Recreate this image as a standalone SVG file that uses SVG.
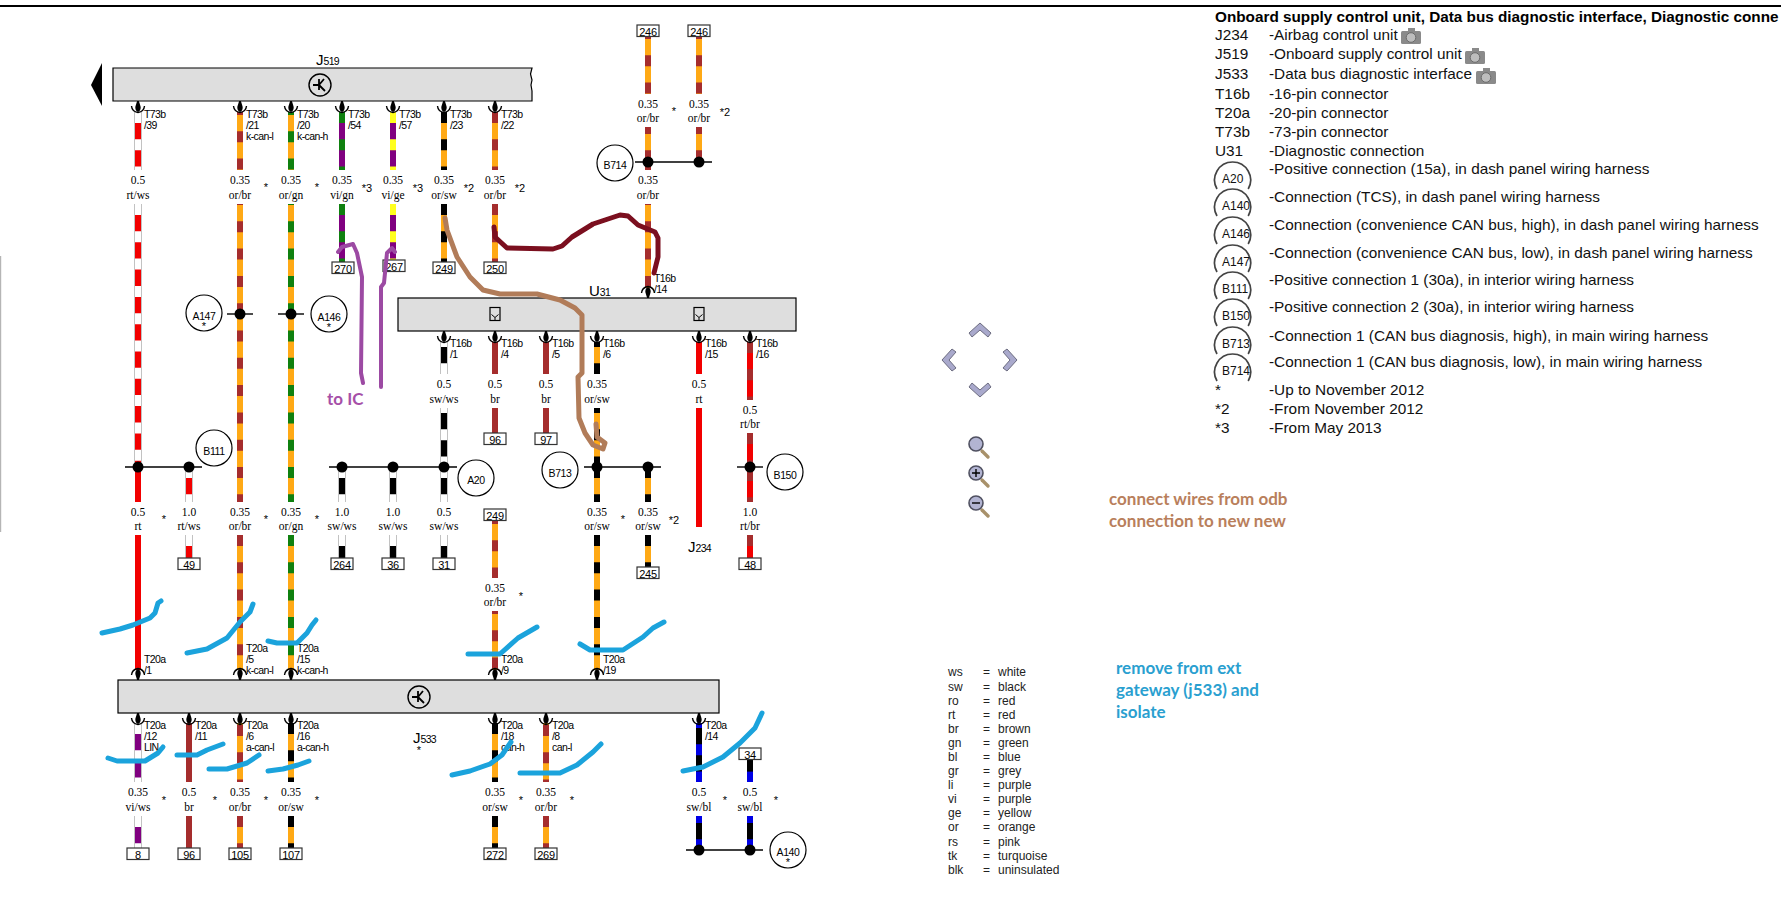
<svg xmlns="http://www.w3.org/2000/svg" width="1781" height="902" viewBox="0 0 1781 902">
<style>
text{font-family:"Liberation Sans",Arial,sans-serif;fill:#000}
.bar{fill:#dedede;stroke:#000;stroke-width:1.2}
.w{fill:none;stroke-width:6}
.d{stroke-dasharray:11 16.3}
.o4{stroke-dashoffset:4}.o6{stroke-dashoffset:6}.o8{stroke-dashoffset:8}.o10{stroke-dashoffset:10}.o16{stroke-dashoffset:15.7}
.edge{fill:none;stroke:#9a9a9a;stroke-width:7.2}
.or{stroke:#ffa915}.br{stroke:#a52d2d}.gn{stroke:#0f800f}.vi{stroke:#800080}.ge{stroke:#ffff1e}.rt{stroke:#f20000}.ws{stroke:#fff}.sw{stroke:#000}.bl{stroke:#0000e6}
.j{fill:none;stroke:#000;stroke-width:1.4}
.dot{fill:#000}
.cf{fill:none;stroke:#000;stroke-width:1.2}
.ct{font-size:10.5px;text-anchor:middle;letter-spacing:-.4px}
.bx{fill:#fff;stroke:#333;stroke-width:1.2}
.bt{font-size:11px;text-anchor:middle;letter-spacing:-.3px}
.s{font-family:"Liberation Serif","Times New Roman",serif;font-size:11.5px;text-anchor:middle}
.p{font-size:10.5px;letter-spacing:-.6px}
.st{font-size:11px;text-anchor:middle}
.big{font-size:15px}
.sub{font-size:10.5px;letter-spacing:-.7px}
.ink{fill:none;stroke-linecap:round;stroke-linejoin:round}
.lg{font-size:15.35px;fill:#111}
.cl{font-size:12px;fill:#222}
.lc{fill:none;stroke:#444;stroke-width:1.7}
.lt{font-size:12px;fill:#111}
.note{font-family:Lato,"Open Sans",sans-serif;font-weight:700;font-size:17px}
.chev{fill:#a9a9cc;stroke:#6c6c80;stroke-width:1}
.lens{fill:#b2b4d2;stroke:#4f5060;stroke-width:1.6}
.hd{stroke:#a8916a;stroke-width:3.4;stroke-linecap:round}
</style>
<defs>
<g id="pd"><path d="M-.9 0H.9L2.7 6Q2.8 10 0 11Q-2.8 10-2.7 6Z" fill="#000"/><path d="M-6.5 5Q-6 10.5 0 11.5Q6 10.5 6.5 5" fill="none" stroke="#000" stroke-width="1.4"/></g>
<g id="pu" transform="scale(1 -1)"><use href="#pd"/></g>
<g id="ic"><circle r="11" fill="none" stroke="#000" stroke-width="1.4"/><path d="M-7 0H0M-1-6V5M-1 0L4-6M-1 0L5 6" fill="none" stroke="#000" stroke-width="1.8"/></g>
<g id="dg"><rect x="-5" y="-6.5" width="10" height="13" fill="none" stroke="#000" stroke-width="1.2"/><path d="M-3.5 .5L0 3.5L3.5 .5M0 3.5V6.5" fill="none" stroke="#000" stroke-width="1"/></g>
<g id="cam"><rect x="0" y="3" width="20" height="13" rx="1.5" fill="#8a8a8a"/><rect x="7" y="0" width="7" height="4" fill="#8a8a8a"/><circle cx="10" cy="9.5" r="4.8" fill="#bdbdbd" stroke="#6b6b6b"/></g>
<path id="ch" class="chev" d="M-11 2L0-8L11 2L8 6L0-1L-8 6Z"/>
</defs>

<rect id="page-top" x="0" y="5" width="1781" height="2" fill="#000"/>
<rect id="page-left" x="0" y="256" width="1.2" height="276" fill="#b5b5b5"/>

<g id="connectors">
<path class="edge" d="M138 112V170M138 204V467M189 467V502M189 535V558M342 467V502M342 535V558M393 467V502M393 535V558M444 342V374M444 408V502M444 535V558M138 723V782M138 816V848"/>
<path class="w or" d="M240 112V170M240 204V502M240 535V670M291 112V170M291 204V502M291 535V670M444 112V170M444 204V262M495 112V170M495 204V262M648 36V94M699 36V94M648 127V170M699 127V162M648 204V288M597 342V374M597 408V502M597 535V670M648 467V502M648 535V567M495 521V578M495 611V670M240 723V782M291 723V782M495 723V782M546 723V782M240 816V848M291 816V848M495 816V848M546 816V848"/>
<path class="w br d" d="M495 112V170M495 204V262M240 535V670M240 725V782M546 725V782M240 816V848M546 816V848"/>
<path class="w br d o8" d="M240 112V170M495 521V578M648 36V94M699 36V94M495 611V670"/>
<path class="w br d o4" d="M648 127V162M699 127V162"/>
<path class="w br" d="M648 164V170"/>
<path class="w br d o10" d="M240 204V502M648 204V288"/>
<path class="w gn d o8" d="M291 112V170"/>
<path class="w gn d o10" d="M291 204V502"/>
<path class="w gn d" d="M291 535V670"/>
<path class="w sw d" d="M444 112V170M444 204V262M597 467V502M648 467V502M597 535V670M648 535V567M291 723V782M495 723V782M291 816V848M495 816V848"/>
<path class="w sw d o6" d="M597 342V374M597 408V467"/>
<path class="w sw" d="M444 342V374M444 408V502M342 467V502M393 467V502M342 535V558M393 535V558M444 535V558"/>
<path class="w ws d o6" d="M444 342V374M444 408V467"/>
<path class="w ws d" d="M444 467V502M342 467V502M393 467V502M342 535V558M393 535V558M444 535V558"/>
<path class="w rt" d="M138 112V170M138 204V502M138 535V670M189 467V502M189 535V558M699 342V374M699 408V527M750 342V400M750 433V502M750 535V558"/>
<path class="w ws d" d="M138 112V170M138 204V467M189 467V502M189 535V558"/>
<path class="w br d" d="M750 342V400M750 433V467M750 470V502M750 535V558"/>
<path class="w vi" d="M342 112V170M342 204V262M393 112V170M393 204V260M138 723V782M138 816V848"/>
<path class="w gn d" d="M342 112V170M342 204V262"/>
<path class="w ge d" d="M393 112V170M393 204V260"/>
<path class="w ws d" d="M138 723V782M138 816V848"/>
<path class="w br" d="M495 342V374M495 408V433M546 342V374M546 408V433M189 723V782M189 816V848"/>
<path class="w sw" d="M699 723V782M699 816V850M750 760V782M750 816V850"/>
<path class="w bl d o6" d="M699 723V782"/>
<path class="w bl d o16" d="M750 760V782"/>
<path class="w bl d o4" d="M699 816V850M750 816V850"/>
</g>

<g id="J519">
<polygon points="102,63 91,85 102,106" fill="#000"/>
<path class="bar" d="M113 68H532L530.5 74L532 80L531 85L532 91V101H113Z"/>
<use href="#ic" x="320" y="85"/>
<text x="316" y="65"><tspan class="big">J</tspan><tspan class="sub">519</tspan></text>
<use href="#pd" x="138" y="101"/><use href="#pd" x="240" y="101"/><use href="#pd" x="291" y="101"/><use href="#pd" x="342" y="101"/><use href="#pd" x="393" y="101"/><use href="#pd" x="444" y="101"/><use href="#pd" x="495" y="101"/>
<text class="p" x="144" y="118">T73b<tspan x="144" dy="11">/39</tspan></text>
<text class="p" x="246" y="118">T73b<tspan x="246" dy="11">/21</tspan><tspan x="246" dy="11">k-can-l</tspan></text>
<text class="p" x="297" y="118">T73b<tspan x="297" dy="11">/20</tspan><tspan x="297" dy="11">k-can-h</tspan></text>
<text class="p" x="348" y="118">T73b<tspan x="348" dy="11">/54</tspan></text>
<text class="p" x="399" y="118">T73b<tspan x="399" dy="11">/57</tspan></text>
<text class="p" x="450" y="118">T73b<tspan x="450" dy="11">/23</tspan></text>
<text class="p" x="501" y="118">T73b<tspan x="501" dy="11">/22</tspan></text>
</g>

<g id="U31">
<rect class="bar" x="398" y="298" width="398" height="33"/>
<use href="#dg" x="495" y="314"/><use href="#dg" x="699" y="314"/>
<text x="589" y="296"><tspan class="big">U</tspan><tspan class="sub">31</tspan></text>
<use href="#pu" x="648" y="298"/>
<use href="#pd" x="444" y="331"/><use href="#pd" x="495" y="331"/><use href="#pd" x="546" y="331"/><use href="#pd" x="597" y="331"/><use href="#pd" x="699" y="331"/><use href="#pd" x="750" y="331"/>
<text class="p" x="654" y="282">T16b<tspan x="654" dy="11">/14</tspan></text>
<text class="p" x="450" y="347">T16b<tspan x="450" dy="11">/1</tspan></text>
<text class="p" x="501" y="347">T16b<tspan x="501" dy="11">/4</tspan></text>
<text class="p" x="552" y="347">T16b<tspan x="552" dy="11">/5</tspan></text>
<text class="p" x="603" y="347">T16b<tspan x="603" dy="11">/6</tspan></text>
<text class="p" x="705" y="347">T16b<tspan x="705" dy="11">/15</tspan></text>
<text class="p" x="756" y="347">T16b<tspan x="756" dy="11">/16</tspan></text>
</g>

<g id="J533">
<rect class="bar" x="118" y="680" width="601" height="33"/>
<use href="#ic" x="419" y="697"/>
<text x="413" y="743"><tspan class="big">J</tspan><tspan class="sub">533</tspan></text>
<text class="st" x="419" y="754">*</text>
<use href="#pu" x="138" y="680"/><use href="#pu" x="240" y="680"/><use href="#pu" x="291" y="680"/><use href="#pu" x="495" y="680"/><use href="#pu" x="597" y="680"/>
<use href="#pd" x="138" y="713"/><use href="#pd" x="189" y="713"/><use href="#pd" x="240" y="713"/><use href="#pd" x="291" y="713"/><use href="#pd" x="495" y="713"/><use href="#pd" x="546" y="713"/><use href="#pd" x="699" y="713"/>
<text class="p" x="144" y="663">T20a<tspan x="144" dy="11">/1</tspan></text>
<text class="p" x="246" y="652">T20a<tspan x="246" dy="11">/5</tspan><tspan x="246" dy="11">k-can-l</tspan></text>
<text class="p" x="297" y="652">T20a<tspan x="297" dy="11">/15</tspan><tspan x="297" dy="11">k-can-h</tspan></text>
<text class="p" x="501" y="663">T20a<tspan x="501" dy="11">/9</tspan></text>
<text class="p" x="603" y="663">T20a<tspan x="603" dy="11">/19</tspan></text>
<text class="p" x="144" y="729">T20a<tspan x="144" dy="11">/12</tspan><tspan x="144" dy="11">LIN</tspan></text>
<text class="p" x="195" y="729">T20a<tspan x="195" dy="11">/11</tspan></text>
<text class="p" x="246" y="729">T20a<tspan x="246" dy="11">/6</tspan><tspan x="246" dy="11">a-can-l</tspan></text>
<text class="p" x="297" y="729">T20a<tspan x="297" dy="11">/16</tspan><tspan x="297" dy="11">a-can-h</tspan></text>
<text class="p" x="501" y="729">T20a<tspan x="501" dy="11">/18</tspan><tspan x="501" dy="11">can-h</tspan></text>
<text class="p" x="552" y="729">T20a<tspan x="552" dy="11">/8</tspan><tspan x="552" dy="11">can-l</tspan></text>
<text class="p" x="705" y="729">T20a<tspan x="705" dy="11">/14</tspan></text>
</g>

<g id="J234"><text x="688" y="552"><tspan class="big">J</tspan><tspan class="sub">234</tspan></text></g>

<g id="A147"><path class="j" d="M227 314H253"/><circle class="dot" cx="240" cy="314" r="5.5"/><circle class="cf" cx="204" cy="313" r="18"/><text class="ct" x="204" y="320">A147</text><text class="st" x="204" y="330">*</text></g>
<g id="A146"><path class="j" d="M278 314H304"/><circle class="dot" cx="291" cy="314" r="5.5"/><circle class="cf" cx="329" cy="314" r="18"/><text class="ct" x="329" y="321">A146</text><text class="st" x="329" y="331">*</text></g>
<g id="B111"><path class="j" d="M125 467H202"/><circle class="dot" cx="138" cy="467" r="5.5"/><circle class="dot" cx="189" cy="467" r="5.5"/><circle class="cf" cx="214" cy="448" r="18"/><text class="ct" x="214" y="455">B111</text></g>
<g id="A20"><path class="j" d="M329 467H457"/><circle class="dot" cx="342" cy="467" r="5.5"/><circle class="dot" cx="393" cy="467" r="5.5"/><circle class="dot" cx="444" cy="467" r="5.5"/><circle class="cf" cx="476" cy="478" r="18"/><text class="ct" x="476" y="484">A20</text></g>
<g id="B713"><path class="j" d="M584 467H661"/><circle class="dot" cx="597" cy="467" r="5.5"/><circle class="dot" cx="648" cy="467" r="5.5"/><circle class="cf" cx="560" cy="470" r="18"/><text class="ct" x="560" y="477">B713</text></g>
<g id="B150"><path class="j" d="M737 467H763"/><circle class="dot" cx="750" cy="467" r="5.5"/><circle class="cf" cx="785" cy="472" r="18"/><text class="ct" x="785" y="479">B150</text></g>
<g id="B714"><path class="j" d="M635 162H712"/><circle class="dot" cx="648" cy="162" r="5.5"/><circle class="dot" cx="699" cy="162" r="5.5"/><circle class="cf" cx="615" cy="163" r="18"/><text class="ct" x="615" y="169">B714</text></g>
<g id="A140"><path class="j" d="M686 850H763"/><circle class="dot" cx="699" cy="850" r="5.5"/><circle class="dot" cx="750" cy="850" r="5.5"/><circle class="cf" cx="788" cy="850" r="18"/><text class="ct" x="788" y="856">A140</text><text class="st" x="788" y="866">*</text></g>

<g id="boxes">
<rect class="bx" x="332" y="262" width="22" height="11.5"/><text class="bt" x="343" y="273">270</text>
<rect class="bx" x="383" y="260" width="22" height="11.5"/><text class="bt" x="394" y="271">267</text>
<rect class="bx" x="433" y="262" width="22" height="11.5"/><text class="bt" x="444" y="273">249</text>
<rect class="bx" x="484" y="262" width="22" height="11.5"/><text class="bt" x="495" y="273">250</text>
<rect class="bx" x="637" y="25" width="22" height="11.5"/><text class="bt" x="648" y="36">246</text>
<rect class="bx" x="688" y="25" width="22" height="11.5"/><text class="bt" x="699" y="36">246</text>
<rect class="bx" x="484" y="433" width="22" height="11.5"/><text class="bt" x="495" y="444">96</text>
<rect class="bx" x="535" y="433" width="22" height="11.5"/><text class="bt" x="546" y="444">97</text>
<rect class="bx" x="484" y="509" width="22" height="11.5"/><text class="bt" x="495" y="520">249</text>
<rect class="bx" x="178" y="558" width="22" height="11.5"/><text class="bt" x="189" y="569">49</text>
<rect class="bx" x="331" y="558" width="22" height="11.5"/><text class="bt" x="342" y="569">264</text>
<rect class="bx" x="382" y="558" width="22" height="11.5"/><text class="bt" x="393" y="569">36</text>
<rect class="bx" x="433" y="558" width="22" height="11.5"/><text class="bt" x="444" y="569">31</text>
<rect class="bx" x="739" y="558" width="22" height="11.5"/><text class="bt" x="750" y="569">48</text>
<rect class="bx" x="637" y="567" width="22" height="11.5"/><text class="bt" x="648" y="578">245</text>
<rect class="bx" x="739" y="748" width="22" height="11.5"/><text class="bt" x="750" y="759">34</text>
<rect class="bx" x="127" y="848" width="22" height="11.5"/><text class="bt" x="138" y="859">8</text>
<rect class="bx" x="178" y="848" width="22" height="11.5"/><text class="bt" x="189" y="859">96</text>
<rect class="bx" x="229" y="848" width="22" height="11.5"/><text class="bt" x="240" y="859">105</text>
<rect class="bx" x="280" y="848" width="22" height="11.5"/><text class="bt" x="291" y="859">107</text>
<rect class="bx" x="484" y="848" width="22" height="11.5"/><text class="bt" x="495" y="859">272</text>
<rect class="bx" x="535" y="848" width="22" height="11.5"/><text class="bt" x="546" y="859">269</text>
</g>

<g id="wire-labels">
<text class="s" x="138" y="184">0.5<tspan x="138" dy="14.5">rt/ws</tspan></text>
<text class="s" x="240" y="184">0.35<tspan x="240" dy="14.5">or/br</tspan></text>
<text class="s" x="291" y="184">0.35<tspan x="291" dy="14.5">or/gn</tspan></text>
<text class="s" x="342" y="184">0.35<tspan x="342" dy="14.5">vi/gn</tspan></text>
<text class="s" x="393" y="184">0.35<tspan x="393" dy="14.5">vi/ge</tspan></text>
<text class="s" x="444" y="184">0.35<tspan x="444" dy="14.5">or/sw</tspan></text>
<text class="s" x="495" y="184">0.35<tspan x="495" dy="14.5">or/br</tspan></text>
<text class="s" x="648" y="184">0.35<tspan x="648" dy="14.5">or/br</tspan></text>
<text class="s" x="648" y="108">0.35<tspan x="648" dy="14">or/br</tspan></text>
<text class="s" x="699" y="108">0.35<tspan x="699" dy="14">or/br</tspan></text>
<text class="s" x="444" y="388">0.5<tspan x="444" dy="14.5">sw/ws</tspan></text>
<text class="s" x="495" y="388">0.5<tspan x="495" dy="14.5">br</tspan></text>
<text class="s" x="546" y="388">0.5<tspan x="546" dy="14.5">br</tspan></text>
<text class="s" x="597" y="388">0.35<tspan x="597" dy="14.5">or/sw</tspan></text>
<text class="s" x="699" y="388">0.5<tspan x="699" dy="14.5">rt</tspan></text>
<text class="s" x="750" y="414">0.5<tspan x="750" dy="14">rt/br</tspan></text>
<text class="s" x="138" y="516">0.5<tspan x="138" dy="14">rt</tspan></text>
<text class="s" x="189" y="516">1.0<tspan x="189" dy="14">rt/ws</tspan></text>
<text class="s" x="240" y="516">0.35<tspan x="240" dy="14">or/br</tspan></text>
<text class="s" x="291" y="516">0.35<tspan x="291" dy="14">or/gn</tspan></text>
<text class="s" x="342" y="516">1.0<tspan x="342" dy="14">sw/ws</tspan></text>
<text class="s" x="393" y="516">1.0<tspan x="393" dy="14">sw/ws</tspan></text>
<text class="s" x="444" y="516">0.5<tspan x="444" dy="14">sw/ws</tspan></text>
<text class="s" x="597" y="516">0.35<tspan x="597" dy="14">or/sw</tspan></text>
<text class="s" x="648" y="516">0.35<tspan x="648" dy="14">or/sw</tspan></text>
<text class="s" x="750" y="516">1.0<tspan x="750" dy="14">rt/br</tspan></text>
<text class="s" x="495" y="592">0.35<tspan x="495" dy="14">or/br</tspan></text>
<text class="s" x="138" y="796">0.35<tspan x="138" dy="14.5">vi/ws</tspan></text>
<text class="s" x="189" y="796">0.5<tspan x="189" dy="14.5">br</tspan></text>
<text class="s" x="240" y="796">0.35<tspan x="240" dy="14.5">or/br</tspan></text>
<text class="s" x="291" y="796">0.35<tspan x="291" dy="14.5">or/sw</tspan></text>
<text class="s" x="495" y="796">0.35<tspan x="495" dy="14.5">or/sw</tspan></text>
<text class="s" x="546" y="796">0.35<tspan x="546" dy="14.5">or/br</tspan></text>
<text class="s" x="699" y="796">0.5<tspan x="699" dy="14.5">sw/bl</tspan></text>
<text class="s" x="750" y="796">0.5<tspan x="750" dy="14.5">sw/bl</tspan></text>
<g>
<text class="st" x="266" y="191">*</text><text class="st" x="317" y="191">*</text><text class="st" x="367" y="192">*3</text><text class="st" x="418" y="192">*3</text><text class="st" x="469" y="192">*2</text><text class="st" x="520" y="192">*2</text>
<text class="st" x="674" y="115">*</text><text class="st" x="725" y="116">*2</text>
<text class="st" x="164" y="523">*</text><text class="st" x="266" y="523">*</text><text class="st" x="317" y="523">*</text><text class="st" x="623" y="523">*</text><text class="st" x="674" y="524">*2</text>
<text class="st" x="521" y="600">*</text>
<text class="st" x="164" y="804">*</text><text class="st" x="215" y="804">*</text><text class="st" x="266" y="804">*</text><text class="st" x="317" y="804">*</text><text class="st" x="521" y="804">*</text><text class="st" x="572" y="804">*</text><text class="st" x="725" y="804">*</text><text class="st" x="776" y="804">*</text>
</g>
</g>

<g id="annotations">
<g stroke="#9c4aa3" stroke-width="4" class="ink">
<polyline points="338,252 342,247 353,244 357,253 362,277 361,373 363,383"/>
<polyline points="395,252 392,248 387,253 384,283 381,287 381,387"/>
</g>
<polyline class="ink" stroke="#b17c59" stroke-width="5" points="445,218 447,230 457,257 470,277 483,290 500,294 537,294 560,300 575,308 582,315 582,373 578,377 579,418 585,433 593,445 603,449 605,443 597,437 596,424"/>
<polyline class="ink" stroke="#7b0f1f" stroke-width="5" points="494,227 495,237 507,248 553,249 562,246 572,237 593,224 620,215 628,216 638,225 655,232 658,238 658,257 654,273"/>
<g stroke="#1ba3dc" stroke-width="5" class="ink">
<polyline points="102,633 120,629 133,625 150,618 155,613 158,603 161,601"/>
<polyline points="187,653 207,649 227,638 240,622 250,612 253,604"/>
<polyline points="268,641 277,643 297,643 307,633 312,625 316,620"/>
<polyline points="468,654 500,654 518,638 537,627"/>
<polyline points="580,644 590,650 623,650 643,637 653,628 664,622"/>
<polyline points="108,758 117,761 145,761 158,753 163,747"/>
<polyline points="177,755 197,755 207,750 223,744"/>
<polyline points="209,769 227,769 247,763 259,755"/>
<polyline points="268,771 283,769 298,765 309,761"/>
<polyline points="452,775 470,771 490,764 502,755 511,742"/>
<polyline points="520,773 560,773 577,765 593,752 601,744"/>
<polyline points="683,771 703,767 723,757 740,743 755,728 762,713"/>
</g>
<text class="note" x="327" y="405" style="fill:#a64fa8">to IC</text>
<text class="note" x="1109" y="505" style="fill:#b97f5c">connect wires from odb<tspan x="1109" dy="22">connection to new new</tspan></text>
<text class="note" x="1116" y="674" style="fill:#2a9fd0">remove from ext<tspan x="1116" dy="22">gateway (j533) and</tspan><tspan x="1116" dy="22">isolate</tspan></text>
</g>

<g id="nav">
<use href="#ch" transform="translate(980 331)"/>
<use href="#ch" transform="translate(980 389) rotate(180)"/>
<use href="#ch" transform="translate(950 360) rotate(-90)"/>
<use href="#ch" transform="translate(1009 360) rotate(90)"/>
<g><path class="hd" d="M982 451L988 457"/><circle class="lens" cx="976" cy="444" r="7"/></g>
<g><path class="hd" d="M982 480L988 486"/><circle class="lens" cx="976" cy="473" r="7"/><path d="M972 473H980M976 469V477" stroke="#000" stroke-width="1.4"/></g>
<g><path class="hd" d="M982 510L988 516"/><circle class="lens" cx="976" cy="503" r="7"/><path d="M972 503H980" stroke="#000" stroke-width="1.4"/></g>
</g>

<g id="legend">
<text x="1215" y="22" style="font-size:15.3px;font-weight:700">Onboard supply control unit, Data bus diagnostic interface, Diagnostic conne</text>
<text class="lg" x="1215" y="40">J234</text><text class="lg" x="1269" y="40">-Airbag control unit</text><use href="#cam" x="1401" y="28"/>
<text class="lg" x="1215" y="59">J519</text><text class="lg" x="1269" y="59">-Onboard supply control unit</text><use href="#cam" x="1465" y="48"/>
<text class="lg" x="1215" y="79">J533</text><text class="lg" x="1269" y="79">-Data bus diagnostic interface</text><use href="#cam" x="1476" y="68"/>
<text class="lg" x="1215" y="99">T16b</text><text class="lg" x="1269" y="99">-16-pin connector</text>
<text class="lg" x="1215" y="118">T20a</text><text class="lg" x="1269" y="118">-20-pin connector</text>
<text class="lg" x="1215" y="137">T73b</text><text class="lg" x="1269" y="137">-73-pin connector</text>
<text class="lg" x="1215" y="156">U31</text><text class="lg" x="1269" y="156">-Diagnostic connection</text>
<path class="lc" d="M1217 189A18 18 0 1 1 1248.2 189"/><text class="lt" x="1222" y="183">A20</text><text class="lg" x="1269" y="174">-Positive connection (15a), in dash panel wiring harness</text>
<path class="lc" d="M1217 216A18 18 0 1 1 1248.2 216"/><text class="lt" x="1222" y="210">A140</text><text class="lg" x="1269" y="202">-Connection (TCS), in dash panel wiring harness</text>
<path class="lc" d="M1217 244A18 18 0 1 1 1248.2 244"/><text class="lt" x="1222" y="238">A146</text><text class="lg" x="1269" y="230">-Connection (convenience CAN bus, high), in dash panel wiring harness</text>
<path class="lc" d="M1217 272A18 18 0 1 1 1248.2 272"/><text class="lt" x="1222" y="266">A147</text><text class="lg" x="1269" y="258">-Connection (convenience CAN bus, low), in dash panel wiring harness</text>
<path class="lc" d="M1217 299A18 18 0 1 1 1248.2 299"/><text class="lt" x="1222" y="293">B111</text><text class="lg" x="1269" y="285">-Positive connection 1 (30a), in interior wiring harness</text>
<path class="lc" d="M1217 326A18 18 0 1 1 1248.2 326"/><text class="lt" x="1222" y="320">B150</text><text class="lg" x="1269" y="312">-Positive connection 2 (30a), in interior wiring harness</text>
<path class="lc" d="M1217 354A18 18 0 1 1 1248.2 354"/><text class="lt" x="1222" y="348">B713</text><text class="lg" x="1269" y="341">-Connection 1 (CAN bus diagnosis, high), in main wiring harness</text>
<path class="lc" d="M1217 381A18 18 0 1 1 1248.2 381"/><text class="lt" x="1222" y="375">B714</text><text class="lg" x="1269" y="367">-Connection 1 (CAN bus diagnosis, low), in main wiring harness</text>
<text class="lg" x="1215" y="395">*</text><text class="lg" x="1269" y="395">-Up to November 2012</text>
<text class="lg" x="1215" y="414">*2</text><text class="lg" x="1269" y="414">-From November 2012</text>
<text class="lg" x="1215" y="433">*3</text><text class="lg" x="1269" y="433">-From May 2013</text>
</g>

<g id="colour-key">
<text class="cl" x="948" y="676">ws</text><text class="cl" x="983" y="676">=</text><text class="cl" x="998" y="676">white</text>
<text class="cl" x="948" y="691">sw</text><text class="cl" x="983" y="691">=</text><text class="cl" x="998" y="691">black</text>
<text class="cl" x="948" y="705">ro</text><text class="cl" x="983" y="705">=</text><text class="cl" x="998" y="705">red</text>
<text class="cl" x="948" y="719">rt</text><text class="cl" x="983" y="719">=</text><text class="cl" x="998" y="719">red</text>
<text class="cl" x="948" y="733">br</text><text class="cl" x="983" y="733">=</text><text class="cl" x="998" y="733">brown</text>
<text class="cl" x="948" y="747">gn</text><text class="cl" x="983" y="747">=</text><text class="cl" x="998" y="747">green</text>
<text class="cl" x="948" y="761">bl</text><text class="cl" x="983" y="761">=</text><text class="cl" x="998" y="761">blue</text>
<text class="cl" x="948" y="775">gr</text><text class="cl" x="983" y="775">=</text><text class="cl" x="998" y="775">grey</text>
<text class="cl" x="948" y="789">li</text><text class="cl" x="983" y="789">=</text><text class="cl" x="998" y="789">purple</text>
<text class="cl" x="948" y="803">vi</text><text class="cl" x="983" y="803">=</text><text class="cl" x="998" y="803">purple</text>
<text class="cl" x="948" y="817">ge</text><text class="cl" x="983" y="817">=</text><text class="cl" x="998" y="817">yellow</text>
<text class="cl" x="948" y="831">or</text><text class="cl" x="983" y="831">=</text><text class="cl" x="998" y="831">orange</text>
<text class="cl" x="948" y="846">rs</text><text class="cl" x="983" y="846">=</text><text class="cl" x="998" y="846">pink</text>
<text class="cl" x="948" y="860">tk</text><text class="cl" x="983" y="860">=</text><text class="cl" x="998" y="860">turquoise</text>
<text class="cl" x="948" y="874">blk</text><text class="cl" x="983" y="874">=</text><text class="cl" x="998" y="874">uninsulated</text>
</g>
</svg>
